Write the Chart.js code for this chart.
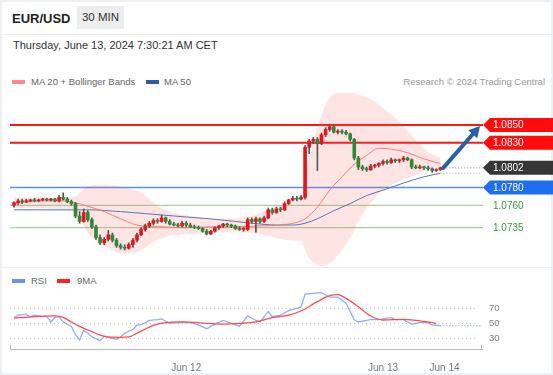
<!DOCTYPE html>
<html>
<head>
<meta charset="utf-8">
<title>EUR/USD 30 MIN</title>
<script src="https://cdn.jsdelivr.net/npm/chart.js@4.4.1/dist/chart.umd.min.js"></script>
<style>
    html, body { margin: 0; padding: 0; background: #fff; }
    body { width: 553px; height: 375px; overflow: hidden; position: relative; font-family: "Liberation Sans", Arial, sans-serif; }
    #frame { position: absolute; left: 0; top: 0; width: 553px; height: 375px; box-sizing: border-box; border: 2px solid #eef0f2; }
    #topbar { position: absolute; left: 0; top: 0; width: 553px; height: 35px; box-sizing: border-box; border-bottom: 1px solid #eceef0; }
    #sym { position: absolute; left: 12px; top: 11px; font-size: 13px; font-weight: bold; color: #222; }
    #tf { position: absolute; left: 77px; top: 6px; width: 47px; height: 23px; line-height: 23px; text-align: center; background: #ededed; color: #333; font-size: 11.5px; }
    #date { position: absolute; left: 13px; top: 39px; font-size: 11px; color: #333; }
    .lg { position: absolute; font-size: 9.5px; color: #666; line-height: 12px; }
    .sw { position: absolute; width: 13px; height: 4px; }
    #credit { position: absolute; right: 8px; top: 76px; font-size: 9.5px; color: #9a9a9a; line-height: 12px; }
    #divider { position: absolute; left: 0; top: 267px; width: 553px; height: 1px; background: #eef0f2; }
    canvas { position: absolute; left: 0; }
    #priceChart { top: 88px; }
    #rsiChart { top: 286px; }
</style>
</head>
<body>
<div id="frame"></div>
<div id="topbar"><span id="sym">EUR/USD</span><span id="tf">30 MIN</span></div>
<div id="date">Thursday, June 13, 2024 7:30:21 AM CET</div>

<div class="sw" style="left:12px; top:80px; background:#f88;"></div>
<div class="lg" style="left:31px; top:76px;">MA 20 + Bollinger Bands</div>
<div class="sw" style="left:146px; top:80px; background:#2c5ea8;"></div>
<div class="lg" style="left:164px; top:76px;">MA 50</div>
<div id="credit">Research © 2024 Trading Central</div>

<div id="divider"></div>

<div class="sw" style="left:12px; top:279px; background:#6f92e6;"></div>
<div class="lg" style="left:31px; top:275px;">RSI</div>
<div class="sw" style="left:57px; top:279px; background:#f22;"></div>
<div class="lg" style="left:77px; top:275px;">9MA</div>

<canvas id="priceChart" width="553" height="180"></canvas>
<canvas id="rsiChart" width="553" height="86"></canvas>

<script>
// 30 min candles, index 0 = Jun 11 05:00, index 42 = Jun 12 00:00, index 90 = Jun 13 00:00
var OPEN = [1.0760, 1.0763, 1.0765, 1.0764, 1.0765, 1.0766, 1.0765, 1.0766, 1.0767, 1.0766,
            1.0767, 1.0765, 1.0769, 1.0767, 1.0764, 1.0762, 1.0748, 1.0742, 1.0752, 1.0744,
            1.0736, 1.0724, 1.0718, 1.0722, 1.0727, 1.0721, 1.0715, 1.0713, 1.0712, 1.0716,
            1.0721, 1.0727, 1.0733, 1.0737, 1.0740, 1.0743, 1.0742, 1.0746, 1.0742, 1.0739,
            1.0738, 1.0737, 1.0740, 1.0738, 1.0736, 1.0735, 1.0734, 1.0731, 1.0728, 1.0731,
            1.0735, 1.0737, 1.0739, 1.0738, 1.0737, 1.0734, 1.0733, 1.0733, 1.0744, 1.0742,
            1.0745, 1.0742, 1.0746, 1.0755, 1.0752, 1.0756, 1.0755, 1.0762, 1.0766, 1.0768,
            1.0767, 1.0769, 1.0825, 1.0832, 1.0834, 1.0829, 1.0839, 1.0845, 1.0848, 1.0842,
            1.0843, 1.0842, 1.0840, 1.0834, 1.0813, 1.0803, 1.0801, 1.0800, 1.0804, 1.0805,
            1.0807, 1.0809, 1.0808, 1.0811, 1.0810, 1.0811, 1.0813, 1.0811, 1.0803, 1.0802,
            1.0803, 1.0802, 1.0801, 1.0799, 1.0800];
var HIGH = [1.0764, 1.0767, 1.0767, 1.0767, 1.0767, 1.0768, 1.0767, 1.0768, 1.0768, 1.0768,
            1.0768, 1.0771, 1.0774, 1.0769, 1.0766, 1.0763, 1.0753, 1.0756, 1.0754, 1.0746,
            1.0738, 1.0727, 1.0724, 1.0732, 1.0729, 1.0723, 1.0717, 1.0716, 1.0718, 1.0723,
            1.0729, 1.0735, 1.0739, 1.0742, 1.0745, 1.0745, 1.0749, 1.0747, 1.0744, 1.0741,
            1.0740, 1.0742, 1.0742, 1.0740, 1.0738, 1.0737, 1.0735, 1.0733, 1.0732, 1.0736,
            1.0738, 1.0740, 1.0740, 1.0739, 1.0738, 1.0736, 1.0735, 1.0746, 1.0746, 1.0747,
            1.0746, 1.0748, 1.0757, 1.0757, 1.0758, 1.0758, 1.0764, 1.0767, 1.0770, 1.0770,
            1.0771, 1.0827, 1.0834, 1.0836, 1.0836, 1.0841, 1.0847, 1.0851, 1.0850, 1.0845,
            1.0845, 1.0844, 1.0841, 1.0835, 1.0815, 1.0805, 1.0803, 1.0806, 1.0806, 1.0808,
            1.0811, 1.0811, 1.0813, 1.0812, 1.0812, 1.0815, 1.0814, 1.0812, 1.0805, 1.0805,
            1.0804, 1.0804, 1.0802, 1.0801, 1.0803];
var LOW = [1.0758, 1.0761, 1.0762, 1.0763, 1.0764, 1.0764, 1.0764, 1.0765, 1.0765, 1.0765,
           1.0764, 1.0764, 1.0766, 1.0763, 1.0760, 1.0746, 1.0740, 1.0741, 1.0742, 1.0734,
           1.0722, 1.0716, 1.0716, 1.0720, 1.0719, 1.0713, 1.0711, 1.0710, 1.0711, 1.0713,
           1.0719, 1.0726, 1.0731, 1.0735, 1.0738, 1.0740, 1.0741, 1.0740, 1.0738, 1.0737,
           1.0736, 1.0736, 1.0736, 1.0735, 1.0734, 1.0733, 1.0730, 1.0727, 1.0727, 1.0730,
           1.0733, 1.0735, 1.0736, 1.0735, 1.0733, 1.0732, 1.0731, 1.0732, 1.0740, 1.0730,
           1.0740, 1.0741, 1.0745, 1.0750, 1.0751, 1.0753, 1.0754, 1.0761, 1.0765, 1.0765,
           1.0766, 1.0767, 1.0818, 1.0829, 1.0799, 1.0828, 1.0837, 1.0843, 1.0841, 1.0840,
           1.0840, 1.0839, 1.0832, 1.0811, 1.0800, 1.0799, 1.0798, 1.0799, 1.0802, 1.0803,
           1.0805, 1.0806, 1.0807, 1.0808, 1.0808, 1.0809, 1.0810, 1.0801, 1.0801, 1.0801,
           1.0800, 1.0799, 1.0797, 1.0798, 1.0799];
var CLOSE = [1.0763, 1.0765, 1.0764, 1.0765, 1.0766, 1.0765, 1.0766, 1.0767, 1.0766, 1.0767,
             1.0765, 1.0769, 1.0767, 1.0764, 1.0762, 1.0748, 1.0742, 1.0752, 1.0744, 1.0736,
             1.0724, 1.0718, 1.0722, 1.0727, 1.0721, 1.0715, 1.0713, 1.0712, 1.0716, 1.0721,
             1.0727, 1.0733, 1.0737, 1.0740, 1.0743, 1.0742, 1.0746, 1.0742, 1.0739, 1.0738,
             1.0737, 1.0740, 1.0738, 1.0736, 1.0735, 1.0734, 1.0731, 1.0728, 1.0731, 1.0735,
             1.0737, 1.0739, 1.0738, 1.0737, 1.0734, 1.0733, 1.0733, 1.0744, 1.0742, 1.0745,
             1.0742, 1.0746, 1.0755, 1.0752, 1.0756, 1.0755, 1.0762, 1.0766, 1.0768, 1.0767,
             1.0769, 1.0825, 1.0832, 1.0834, 1.0829, 1.0839, 1.0845, 1.0848, 1.0842, 1.0843,
             1.0842, 1.0840, 1.0834, 1.0813, 1.0803, 1.0801, 1.0800, 1.0804, 1.0805, 1.0807,
             1.0809, 1.0808, 1.0811, 1.0810, 1.0811, 1.0813, 1.0811, 1.0803, 1.0802, 1.0803,
             1.0802, 1.0801, 1.0799, 1.0800, 1.0802];

// moving averages and bollinger bands at these candle indexes
var MA20_IDX = [0, 6, 12, 15, 18, 22, 26, 30, 36, 42, 48, 54, 60, 65, 69, 71, 74, 77, 80, 83, 86, 89, 92, 96, 100, 104];
var MA20 = [1.0762, 1.0765, 1.0765, 1.0763, 1.0759, 1.0753, 1.0745, 1.0738, 1.0736, 1.0735, 1.0736, 1.0736, 1.0737,
            1.0738, 1.0741, 1.0745, 1.0758, 1.0777, 1.0792, 1.0806, 1.0816, 1.0824, 1.0823, 1.0819, 1.0812, 1.0807];
var MA50_IDX = [0, 10, 18, 26, 34, 42, 50, 58, 64, 68, 71, 74, 78, 82, 86, 90, 95, 100, 104];
var MA50 = [1.0755, 1.0755, 1.0755, 1.0753, 1.0750, 1.0747, 1.0744, 1.0740, 1.0738, 1.0738, 1.0740, 1.0745,
            1.0754, 1.0762, 1.0771, 1.0777, 1.0785, 1.0792, 1.0796];
var BB_IDX = [0, 14, 16, 18, 21, 25, 27, 31, 34, 38, 43, 50, 58, 62, 67, 70, 71, 72, 73, 74, 75, 76, 77, 78,
              80, 82, 83, 84, 86, 88, 90, 94, 98, 101, 104];
var BB_UPPER = [1.0769, 1.0768, 1.0774, 1.0781, 1.0783, 1.0782, 1.0780, 1.0774, 1.0763, 1.0753, 1.0748, 1.0745,
                1.0748, 1.0755, 1.0763, 1.0768, 1.0794, 1.0813, 1.0830, 1.0847, 1.0861, 1.0872, 1.0880, 1.0885,
                1.0886, 1.0886, 1.0885, 1.0884, 1.0881, 1.0876, 1.0869, 1.0853, 1.0833, 1.0820, 1.0813];
var BB_LOWER = [1.0757, 1.0755, 1.0745, 1.0729, 1.0717, 1.0708, 1.0706, 1.0710, 1.0719, 1.0726, 1.0728, 1.0730,
                1.0729, 1.0726, 1.0721, 1.0720, 1.0710, 1.0701, 1.0696, 1.0693, 1.0692, 1.0693, 1.0695, 1.0699,
                1.0710, 1.0724, 1.0732, 1.0742, 1.0757, 1.0768, 1.0777, 1.0787, 1.0794, 1.0800, 1.0802];

// RSI pane
var RSI_IDX = [0, 1, 3, 4, 5, 6, 8, 9, 10, 11, 12, 13, 14, 15, 16, 17, 18, 19, 21, 22, 23, 25, 26, 27, 29, 30,
               31, 33, 35, 36, 38, 40, 43, 45, 47, 49, 51, 53, 55, 57, 59, 60, 62, 63, 65, 67, 69, 70, 71, 75,
               77, 79, 81, 82, 83, 84, 87, 89, 92, 93, 95, 97, 99, 101, 102, 104];
var RSI = [57, 60, 61, 58, 60, 59, 58, 51, 57, 58, 51, 48, 45, 34, 27, 40, 36, 31, 26, 32, 30, 28, 31, 36, 41, 47,
           47, 53, 54, 55, 49, 50, 50, 47, 42, 48, 53, 49, 45, 59, 53, 51, 65, 58, 60, 66, 69, 71, 88, 90,
           84, 84, 76, 65, 54, 51, 54, 54, 57, 54, 54, 48, 50, 50, 47, 46];
var RSI_MA_IDX = [0, 5, 10, 12, 14, 16, 19, 21, 23, 26, 28, 30, 32, 35, 37, 41, 45, 47, 51, 55, 59, 63, 67, 70,
                  74, 77, 79, 81, 84, 87, 90, 95, 100, 103];
var RSI_MA = [56, 58, 59, 57, 51, 45, 38, 33.5, 31, 30.5, 31, 36, 41.6, 48, 50, 51, 50, 49, 48, 49, 51, 56.7,
              60, 65.6, 78, 86, 87.3, 82.4, 71.3, 59, 53.6, 54.4, 51.8, 49];
var RSI_LEVELS = [70, 50, 30];

// key levels
var RESISTANCE = [1.0850, 1.0830];
var PIVOT = [1.0780];
var SUPPORT = [1.0760, 1.0735];
var LAST_PRICE = 1.0802;

// time axis
var TICK_POS = [42, 90, 105];
var TICK_LABELS = ['Jun 12', 'Jun 13', 'Jun 14'];

var X_MIN = -0.976;
var X_MAX = 114.15;
var LAST_IDX = CLOSE.length - 1;

function points(idx, values) {
    return idx.map(function(x, k) { return { x: x, y: values[k] }; });
}

function candleColor(k) {
    return CLOSE[k] >= OPEN[k] ? '#e8141b' : '#2f8a34';
}

function hline(ctx, x0, x1, y, color, width, dash) {
    ctx.beginPath();
    ctx.strokeStyle = color;
    ctx.lineWidth = width;
    ctx.setLineDash(dash || []);
    ctx.moveTo(x0, y);
    ctx.lineTo(x1, y);
    ctx.stroke();
    ctx.setLineDash([]);
}

/**
 * Price tag with a pointed left side, like the chart's level labels
 */
function priceTag(ctx, x, y, text, bg) {
    var h = 14, tip = 7;
    ctx.beginPath();
    ctx.fillStyle = bg;
    ctx.moveTo(x, y);
    ctx.lineTo(x + tip, y - h / 2);
    ctx.lineTo(ctx.canvas.width, y - h / 2);
    ctx.lineTo(ctx.canvas.width, y + h / 2);
    ctx.lineTo(x + tip, y + h / 2);
    ctx.closePath();
    ctx.fill();
    ctx.fillStyle = '#fff';
    ctx.fillText(text, x + 10, y + 0.5);
}

var levelsPlugin = {
    id: 'levels',
    beforeDatasetsDraw: function(chart) {
        var ctx = chart.ctx, area = chart.chartArea, y = chart.scales.y;
        ctx.save();
        SUPPORT.forEach(function(v) { hline(ctx, area.left, area.right + 1, y.getPixelForValue(v), '#a2d69a', 1.3); });
        PIVOT.forEach(function(v) { hline(ctx, area.left, area.right + 1, y.getPixelForValue(v), '#5b8ef0', 1.6); });
        RESISTANCE.forEach(function(v) { hline(ctx, area.left, area.right + 1, y.getPixelForValue(v), '#ff1616', 2); });
        ctx.restore();
    },
    afterDraw: function(chart) {
        var ctx = chart.ctx, area = chart.chartArea, x = chart.scales.x, y = chart.scales.y;
        var tagX = area.right + 1;
        var startX = x.getPixelForValue(LAST_IDX + 0.7);
        var lastY = y.getPixelForValue(LAST_PRICE);
        ctx.save();

        // dotted line from the last candle to its tag
        hline(ctx, startX, tagX, lastY, '#8c8c8c', 1, [1, 2]);

        // forecast arrow towards the first resistance
        var endX = tagX - 3, endY = y.getPixelForValue(RESISTANCE[0]) + 1;
        var ang = Math.atan2(endY - lastY, endX - startX);
        var head = 11, half = 6;
        var bx = endX - head * Math.cos(ang), by = endY - head * Math.sin(ang);
        ctx.strokeStyle = '#2b5fa6';
        ctx.fillStyle = '#2b5fa6';
        ctx.lineWidth = 4;
        ctx.lineCap = 'round';
        ctx.beginPath();
        ctx.moveTo(startX, lastY);
        ctx.lineTo(bx, by);
        ctx.stroke();
        ctx.beginPath();
        ctx.moveTo(endX, endY);
        ctx.lineTo(bx + half * Math.sin(ang), by - half * Math.cos(ang));
        ctx.lineTo(bx - half * Math.sin(ang), by + half * Math.cos(ang));
        ctx.closePath();
        ctx.fill();

        // level labels
        ctx.font = '10px "Liberation Sans", Arial, sans-serif';
        ctx.textBaseline = 'middle';
        ctx.textAlign = 'left';
        RESISTANCE.forEach(function(v) { priceTag(ctx, tagX, y.getPixelForValue(v), v.toFixed(4), '#ff0d0d'); });
        priceTag(ctx, tagX, lastY, LAST_PRICE.toFixed(4), '#363636');
        PIVOT.forEach(function(v) { priceTag(ctx, tagX, y.getPixelForValue(v), v.toFixed(4), '#1d6ef0'); });
        ctx.fillStyle = '#3c9a3c';
        SUPPORT.forEach(function(v) { ctx.fillText(v.toFixed(4), tagX + 10, y.getPixelForValue(v) + 0.5); });
        ctx.restore();
    }
};

var rsiPlugin = {
    id: 'rsiLevels',
    beforeDatasetsDraw: function(chart) {
        var ctx = chart.ctx, area = chart.chartArea, y = chart.scales.y;
        ctx.save();
        ctx.font = '9.5px "Liberation Sans", Arial, sans-serif';
        ctx.textBaseline = 'middle';
        ctx.fillStyle = '#808080';
        RSI_LEVELS.forEach(function(v) {
            var py = Math.round(y.getPixelForValue(v)) + 0.5;
            hline(ctx, area.left, area.right - 6, py, '#c4c4c4', 1, [1, 3]);
            ctx.fillText(String(v), area.right + 7, py);
        });
        ctx.restore();
    },
    afterDraw: function(chart) {
        var ctx = chart.ctx, area = chart.chartArea;
        ctx.save();
        ctx.strokeStyle = '#b8b8b8';
        ctx.lineWidth = 1;
        ctx.beginPath();
        ctx.moveTo(area.left + 0.5, area.bottom - 4);
        ctx.lineTo(area.left + 0.5, area.bottom);
        ctx.moveTo(area.right - 0.5, area.bottom - 4);
        ctx.lineTo(area.right - 0.5, area.bottom);
        ctx.stroke();
        ctx.restore();
    }
};

/**
 * Price pane: bollinger fill, moving averages, candles
 */
function initPriceChart() {
    var ctx = document.getElementById('priceChart').getContext('2d');
    var bodies = OPEN.map(function(o, k) { return { x: k, y: [o, CLOSE[k]] }; });
    var wicks = LOW.map(function(l, k) { return { x: k, y: [l, HIGH[k]] }; });

    new Chart(ctx, {
        type: 'line',
        data: {
            datasets: [{
                label: 'BB upper',
                data: points(BB_IDX, BB_UPPER),
                borderWidth: 0,
                pointRadius: 0,
                cubicInterpolationMode: 'monotone',
                fill: '+1',
                backgroundColor: 'rgba(255, 95, 95, 0.17)',
                order: 10
            }, {
                label: 'BB lower',
                data: points(BB_IDX, BB_LOWER),
                borderWidth: 0,
                pointRadius: 0,
                cubicInterpolationMode: 'monotone',
                fill: false,
                order: 9
            }, {
                label: 'MA 50',
                data: points(MA50_IDX, MA50),
                borderColor: '#5576b6',
                borderWidth: 1,
                pointRadius: 0,
                cubicInterpolationMode: 'monotone',
                order: 6
            }, {
                label: 'MA 50 ext',
                data: [{ x: LAST_IDX, y: MA50[MA50.length - 1] }, { x: X_MAX, y: MA50[MA50.length - 1] }],
                borderColor: '#8fa9dc',
                borderWidth: 1,
                borderDash: [1, 2],
                pointRadius: 0,
                order: 6
            }, {
                label: 'MA 20',
                data: points(MA20_IDX, MA20),
                borderColor: 'rgba(255, 110, 110, 0.9)',
                borderWidth: 1,
                pointRadius: 0,
                cubicInterpolationMode: 'monotone',
                order: 5
            }, {
                type: 'bar',
                label: 'wick',
                data: wicks,
                backgroundColor: '#555',
                barThickness: 1,
                grouped: false,
                order: 2
            }, {
                type: 'bar',
                label: 'body',
                data: bodies,
                backgroundColor: function(c) { return candleColor(c.dataIndex); },
                borderColor: '#444',
                borderWidth: 0,
                barThickness: 3,
                minBarLength: 1,
                grouped: false,
                order: 1
            }]
        },
        options: {
            responsive: false,
            animation: false,
            layout: { padding: { left: 10, right: 71, top: 0, bottom: 0 } },
            plugins: { legend: { display: false }, tooltip: { enabled: false } },
            scales: {
                x: { type: 'linear', min: X_MIN, max: X_MAX, offset: false, display: false },
                y: { type: 'linear', min: 1.0689869, max: 1.0891433, display: false }
            }
        },
        plugins: [levelsPlugin]
    });
}

/**
 * RSI pane with its 9 period average
 */
function initRsiChart() {
    var ctx = document.getElementById('rsiChart').getContext('2d');
    var lastRsi = RSI[RSI.length - 1];

    new Chart(ctx, {
        type: 'line',
        data: {
            datasets: [{
                label: '9MA',
                data: points(RSI_MA_IDX, RSI_MA),
                borderColor: '#ff4a4a',
                borderWidth: 1.3,
                pointRadius: 0,
                cubicInterpolationMode: 'monotone'
            }, {
                label: 'RSI',
                data: points(RSI_IDX, RSI),
                borderColor: '#93adf0',
                borderWidth: 1.3,
                pointRadius: 0,
                tension: 0
            }, {
                label: 'RSI ext',
                data: [{ x: RSI_IDX[RSI_IDX.length - 1], y: lastRsi }, { x: X_MAX, y: lastRsi }],
                borderColor: '#93adf0',
                borderWidth: 1.3,
                borderDash: [1, 2],
                pointRadius: 0
            }]
        },
        options: {
            responsive: false,
            animation: false,
            layout: { padding: { left: 10, right: 71, top: 0, bottom: 0 } },
            plugins: { legend: { display: false }, tooltip: { enabled: false } },
            scales: {
                x: {
                    type: 'linear',
                    min: X_MIN,
                    max: X_MAX,
                    offset: false,
                    grid: { display: false },
                    border: { display: true, color: '#b8b8b8', width: 1 },
                    afterBuildTicks: function(scale) {
                        scale.ticks = TICK_POS.map(function(v) { return { value: v }; });
                    },
                    afterFit: function(scale) { scale.height = 23; },
                    ticks: {
                        autoSkip: false,
                        maxRotation: 0,
                        padding: 5,
                        color: '#777',
                        font: { size: 10, family: '"Liberation Sans", Arial, sans-serif' },
                        callback: function(value) {
                            var k = TICK_POS.indexOf(value);
                            return k < 0 ? '' : TICK_LABELS[k];
                        }
                    }
                },
                y: { type: 'linear', min: 14.93, max: 98.93, display: false }
            }
        },
        plugins: [rsiPlugin]
    });
}

initPriceChart();
initRsiChart();
</script>
</body>
</html>
